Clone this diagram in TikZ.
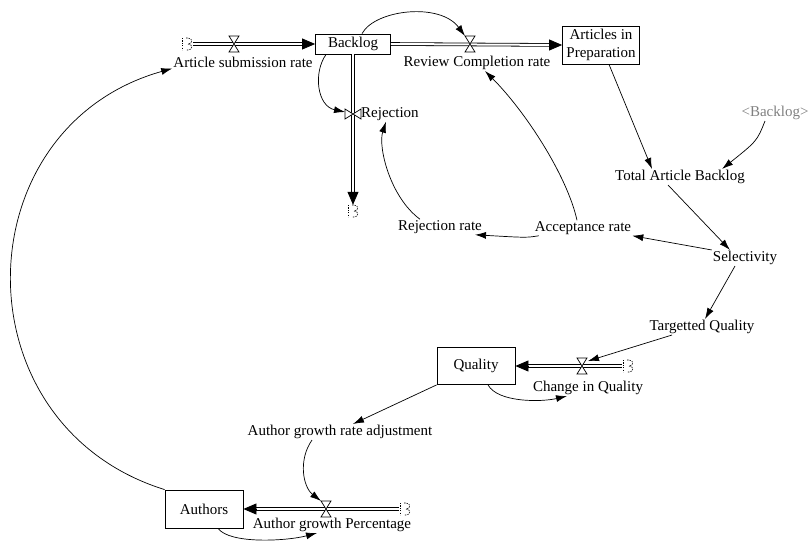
\documentclass[tikz,border=0pt]{standalone}
\usepackage{fontspec}
\setmainfont{Liberation Serif}
\usetikzlibrary{arrows.meta}
\definecolor{shadowgray}{gray}{0.5}
\begin{document}
\begin{tikzpicture}[x=1pt,y=-1pt,
  every node/.style={font=\fontsize{15}{18}\selectfont, inner sep=1pt},
  stock/.style={draw, line width=0.8pt, inner sep=2pt, align=center},
  cloudnode/.style={minimum width=12pt, minimum height=12pt, inner sep=0pt},
  pipe/.style={double, double distance=2pt, line width=0.8pt},
  pipehead/.style={-{Triangle[length=13pt,width=11pt]}, line width=0.8pt},
  link/.style={line width=0.7pt, -{Latex[length=11pt,width=7pt]}},
  hvalve/.pic={\draw[fill=white, line width=0.7pt] (-5,-8) -- (5,-8) -- (-5,8) -- (5,8) -- cycle;},
  vvalve/.pic={\draw[fill=white, line width=0.7pt] (-8,-5) -- (-8,5) -- (8,-5) -- (8,5) -- cycle;},
  cloud/.pic={
    \draw[line width=0.6pt, dash pattern=on 1.2pt off 1.2pt] (-5,-6) -- (-5,6);
    \draw[line width=0.6pt, dash pattern=on 1.5pt off 1pt] (-1,-6) -- (1,-6)
      .. controls (6,-6) and (6,0) .. (1,0) .. controls (6,0) and (6,6) .. (1,6) -- (-1,6);}
]
\useasboundingbox (0,0) rectangle (809,556);

% stocks
\node[stock, minimum width=75pt, minimum height=20pt] (backlog) at (353,44) {Backlog};
\node[stock, minimum width=77pt, minimum height=38pt] (aip) at (601,45) {Articles in\\Preparation};
\node[stock, minimum width=78pt, minimum height=37pt] (quality) at (476,366) {Quality};
\node[stock, minimum width=78pt, minimum height=38pt] (authors) at (204,509) {Authors};

% clouds
\node[cloudnode] (c1) at (187,44) {};
\node[cloudnode] (c2) at (353,211) {};
\node[cloudnode] (c3) at (628,366) {};
\node[cloudnode] (c4) at (405,509) {};

% valves
\coordinate (v1) at (234,44);
\coordinate (v2) at (470,44);
\coordinate (v3) at (353,114);
\coordinate (v4) at (582,366);
\coordinate (v5) at (326,509);
\coordinate (v2n) at (465,36);
\coordinate (v3w) at (345,112);
\coordinate (v4n) at (588,361);
\coordinate (v5n) at (321,501);

% labels
\node (asr) at (243,62) {Article submission rate};
\node (rcr) at (477,63) {Review Completion rate};
\node[anchor=west] (rej) at (360,114) {Rejection};
\node (rejrate) at (440,227) {Rejection rate};
\node (accrate) at (583,228) {Acceptance rate};
\node[text=shadowgray] (backlog2) at (775,113) {<Backlog>};
\node (tab) at (680,177) {Total Article Backlog};
\node (sel) at (745,258) {Selectivity};
\node (tq) at (702,327) {Targetted Quality};
\node (ciq) at (588,388) {Change in Quality};
\node (agra) at (340,432) {Author growth rate adjustment};
\node (agp) at (332,525) {Author growth Percentage};

% pipes
\draw[pipe, shorten >=12pt] (c1.east) -- (backlog.west);
\draw[pipehead] ([xshift=-13pt]backlog.west) -- (backlog.west);
\draw[pipe, shorten >=12pt] (backlog.east) -- (aip.west);
\draw[pipehead] ([xshift=-13pt]aip.west) -- (aip.west);
\draw[pipe, shorten >=12pt] (backlog.south) -- (c2.north);
\draw[pipehead] ([yshift=13pt]c2.north) -- (c2.north);
\draw[pipe, shorten >=12pt] (c3.west) -- (quality.east);
\draw[pipehead] ([xshift=13pt]quality.east) -- (quality.east);
\draw[pipe, shorten >=12pt] (c4.west) -- (authors.east);
\draw[pipehead] ([xshift=13pt]authors.east) -- (authors.east);

\pic (pv1) at (v1) {hvalve};
\pic (pv2) at (v2) {hvalve};
\pic (pv3) at (v3) {vvalve};
\pic (pv4) at (v4) {hvalve};
\pic (pv5) at (v5) {hvalve};
\pic (pc1) at (c1) {cloud};
\pic (pc2) at (c2) {cloud};
\pic (pc3) at (c3) {cloud};
\pic (pc4) at (c4) {cloud};

% links
\draw[link] ([xshift=9pt]backlog.north) .. controls +(13,-24) and +(-25,-34) .. (v2n);
\draw[link] ([xshift=11pt]backlog.south west) .. controls +(-13,18) and +(-28,-6) .. (v3w);
\draw[link] ([xshift=-20pt]rejrate.north) .. controls +(-30,-22) and +(-8,25) .. ([xshift=-4pt]rej.south);
\draw[link] ([xshift=5pt]accrate.south west) .. controls +(-12,2) .. ([xshift=-8pt]rejrate.south east);
\draw[link] ([xshift=-6pt]accrate.north) .. controls +(-10,-45) and +(40,40) .. ([xshift=8pt]rcr.south);
\draw[link] ([xshift=-10pt]backlog2.south) .. controls +(-8,20) .. ([xshift=-24pt]tab.north east);
\draw[link] ([xshift=8pt]aip.south) -- ([xshift=-28pt]tab.north);
\draw[link] ([xshift=-12pt]tab.south) -- ([xshift=-15pt]sel.north);
\draw[link] (sel.north west) -- (accrate.south east);
\draw[link] ([xshift=-10pt]sel.south) -- ([xshift=3pt]tq.north);
\draw[link] ([xshift=-30pt]tq.south) -- (v4n);
\draw[link] ([xshift=12pt]quality.south) .. controls +(10,18) and +(-25,6) .. ([xshift=-21pt]ciq.south);
\draw[link] (quality.south west) -- ([xshift=13pt]agra.north);
\draw[link] ([xshift=-28pt]agra.south) .. controls +(-14,20) and +(-18,-14) .. (v5n);
\draw[link] ([xshift=14pt]authors.south) .. controls +(12,16) and +(-30,8) .. ([xshift=-15pt]agp.south);
\draw[link] (authors.north west) .. controls +(-208,-65) and +(-210,59) .. (asr.south west);
\end{tikzpicture}
\end{document}
